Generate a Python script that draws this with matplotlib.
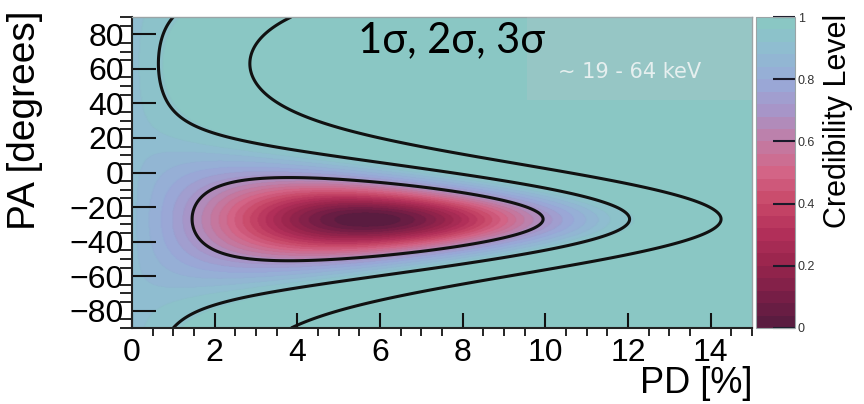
import numpy as np
import matplotlib
matplotlib.use('Agg')
import matplotlib.pyplot as plt
from matplotlib.colors import LinearSegmentedColormap
from matplotlib.patches import Rectangle

# best-fit polarization and width of the Stokes-plane gaussian
pd_best = 5.7      # %
pa_best = -27.0    # degrees
sigma = 2.6        # %

sigma_levels = [0.6827, 0.9545, 0.9973]
cbar_ticks = [0, 0.2, 0.4, 0.6, 0.8, 1]
x_ticks = [0, 2, 4, 6, 8, 10, 12, 14]
y_ticks = [-80, -60, -40, -20, 0, 20, 40, 60, 80]

cmap_colors = ['#5a1c40', '#7c1f47', '#9a254d', '#b3305a', '#c84868',
               '#d36486', '#c27ba3', '#a893c6', '#99a9d8', '#90bbd2', '#8ac7c4']

# credibility level: mass of the posterior (uniform prior in PD, PA) above each density
pd_f = np.arange(0.005, 40, 0.01)
pa_f = np.arange(-90, 90, 0.25) + 0.125
P, A = np.meshgrid(pd_f, pa_f)
q0 = pd_best * np.cos(np.radians(2 * pa_best))
u0 = pd_best * np.sin(np.radians(2 * pa_best))


def stokes_dist(p, a):
    q = p * np.cos(np.radians(2 * a))
    u = p * np.sin(np.radians(2 * a))
    return np.sqrt((q - q0) ** 2 + (u - u0) ** 2)


ds = np.sort(stokes_dist(P, A).ravel())
cum = np.cumsum(np.exp(-ds ** 2 / (2 * sigma ** 2)))
cum /= cum[-1]

pd_grid = np.linspace(0, 15, 751)
pa_grid = np.linspace(-90, 90, 541)
PG, AG = np.meshgrid(pd_grid, pa_grid)
cred = np.interp(stokes_dist(PG, AG), ds, cum)

# plot
fig = plt.figure(figsize=(8.64, 4.04), dpi=100)
ax = fig.add_axes([132 / 864, 76 / 404, 620 / 864, 311 / 404])
cax = fig.add_axes([756 / 864, 76 / 404, 39 / 864, 311 / 404])

cmap = LinearSegmentedColormap.from_list('cred', cmap_colors, N=25)
mesh = ax.pcolormesh(pd_grid, pa_grid, cred, cmap=cmap, vmin=0, vmax=1,
                     shading='gouraud', rasterized=True)
ax.contour(pd_grid, pa_grid, cred, levels=sigma_levels, colors='#111111',
           linewidths=2.2)

ax.set_xlim(0, 15)
ax.set_ylim(-90, 90)
ax.set_xticks(x_ticks)
ax.set_yticks(y_ticks)
ax.set_xticks(np.arange(0, 15.01, 0.5), minor=True)
ax.set_yticks(np.arange(-90, 90.01, 5), minor=True)
ax.tick_params(direction='in', labelsize=23, width=1.5, colors='#111111',
               labelcolor='black')
ax.tick_params(axis='x', which='major', length=11, pad=7)
ax.tick_params(axis='x', which='minor', length=6, width=1.2)
ax.tick_params(axis='y', which='major', length=17, pad=6)
ax.tick_params(axis='y', which='minor', length=9, width=1.2)
for lab in ax.get_xticklabels() + ax.get_yticklabels():
    lab.set_family('Liberation Sans')
for s in ['left', 'bottom']:
    ax.spines[s].set_linewidth(1.5)
    ax.spines[s].set_color('#222222')
for s in ['top', 'right']:
    ax.spines[s].set_linewidth(1.0)
    ax.spines[s].set_color('#9aa4a6')

ax.add_patch(Rectangle((0.637, 0.733), 0.363, 0.267, transform=ax.transAxes,
                       facecolor='#c4c4cc', alpha=0.22, edgecolor='none', zorder=3))
ax.text(0.803, 0.822, '~ 19 - 64 keV', transform=ax.transAxes, ha='center',
        va='center', fontsize=15, color='#e6efef', family='DejaVu Sans', zorder=4)

cb = fig.colorbar(mesh, cax=cax, ticks=cbar_ticks)
cb.outline.set_edgecolor('#9aa4a6')
cb.outline.set_linewidth(0.8)
cb.ax.set_yticklabels(['0', '0.2', '0.4', '0.6', '0.8', '1'])
cax.tick_params(direction='in', length=16, width=1.5, colors='#1a1a2a',
                labelsize=9, labelcolor='#333333', pad=2)
for lab in cax.get_yticklabels():
    lab.set_family('Liberation Sans')

fig.text(25 / 864, 1 - 10 / 404, 'PA [degrees]', rotation=90, ha='center',
         va='top', fontsize=28, family='Liberation Sans')
fig.text(752 / 864, 3 / 404, 'PD [%]', ha='right', va='bottom', fontsize=26,
         family='Liberation Sans')
fig.text(838 / 864, 1 - 14 / 404, 'Credibility Level', rotation=90,
         ha='center', va='top', fontsize=22, family='Liberation Sans')
fig.text(452 / 864, 1 - 52 / 404, '1σ, 2σ, 3σ', ha='center', va='baseline',
         fontsize=30, family='Lato', color='black')

fig.savefig('out.png', dpi=100)
